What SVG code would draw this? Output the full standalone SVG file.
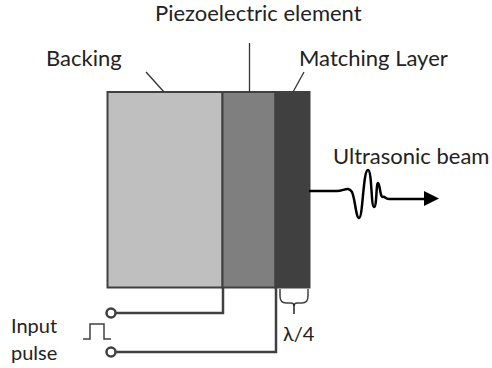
<svg xmlns="http://www.w3.org/2000/svg" width="492" height="368" viewBox="0 0 492 368">
<style>
text{font-family:"Lato","Open Sans","Liberation Sans",sans-serif;font-size:22px;fill:#222}
.s{font-size:20px}
.l{fill:none;stroke:#404040;stroke-width:1.500}
.w{fill:none;stroke:#404040;stroke-width:2.500}
.b{stroke:#404040;stroke-width:2}
</style>
<rect width="492" height="368" fill="#fff"/>
<g id="backing"><rect class="b" x="107.500" y="92" width="115" height="195.500" fill="#bfbfbf"/><text x="46" y="66">Backing</text></g>
<g id="piezo"><rect class="b" x="222.500" y="92" width="53" height="195.500" fill="#7f7f7f"/><text x="155" y="21">Piezoelectric element</text></g>
<g id="matching"><rect class="b" x="275.500" y="92" width="34" height="195.500" fill="#404040"/><text x="299" y="66">Matching Layer</text></g>
<g id="beam"><text x="333" y="164">Ultrasonic beam</text></g>
<g id="input"><text class="s" x="11" y="333">Input</text><text class="s" x="11" y="360">pulse</text><circle cx="111" cy="313" r="4.500" fill="#fff" stroke="#404040" stroke-width="2.500"/><circle cx="111" cy="352" r="4.500" fill="#fff" stroke="#404040" stroke-width="2.500"/><path class="l" d="M83 339H90V324H104V339H111"/></g>
<g id="quarter"><text class="s" x="283" y="341">λ/4</text><path class="l" d="M280 289V296Q280 303 286 303H291Q294 303 294 306Q294 303 297 303H302Q308 303 308 296V289"/><path d="M294 304V314" stroke="#222" stroke-width="1.500" fill="none"/></g>
<g id="connectors">
<path d="M146 72L164 92M249.500 43V92M304 72L293 92" fill="none" stroke="#333" stroke-width="1.300"/>
<path class="w" d="M116 313H223V288M116 352H276V288"/>
<path d="M309 191H337C344 191 348 186 352 192C355 198 356 218 359 218C363 218 363 170 368 170C372 170 371 207 374 207C377 207 376 183 378 183C380 183 380 198 383 197C385 196 385 199 389 199H425" fill="none" stroke="#000" stroke-width="2.500"/>
<path d="M424 191L439 198.500L424 206Z" fill="#000"/>
</g>
</svg>
